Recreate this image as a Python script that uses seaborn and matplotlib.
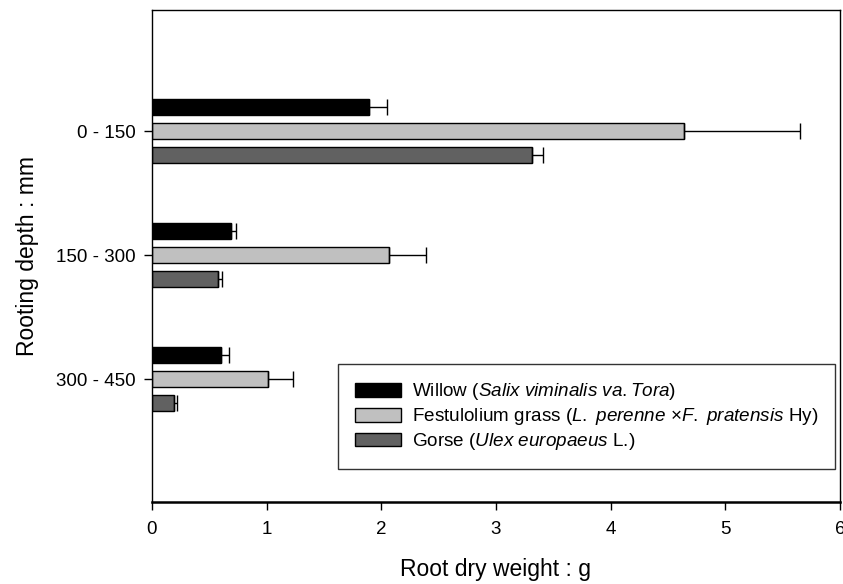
import numpy as np
import pandas as pd
import seaborn as sns
import matplotlib
matplotlib.use("Agg")
from matplotlib import pyplot as plt

# datos
profundidad = ["0 - 150", "150 - 300", "300 - 450"]
especies = [
    r"Willow ($\it{Salix}$ $\it{viminalis}$ $\it{va.Tora}$)",
    r"Festulolium grass ($\it{L.}$ $\it{perenne}$ ×$\it{F.}$ $\it{pratensis}$ Hy)",
    r"Gorse ($\it{Ulex}$ $\it{europaeus}$ L.)",
]
willow = [1.89, 0.69, 0.60]
festulolium = [4.64, 2.07, 1.01]
gorse = [3.31, 0.58, 0.19]
willow_err = [0.16, 0.04, 0.07]
festulolium_err = [1.01, 0.32, 0.22]
gorse_err = [0.10, 0.03, 0.03]
colores = ["#000000", "#c0c0c0", "#616161"]

sns.set_style("white")
plt.rcParams["font.family"] = ["Liberation Sans", "DejaVu Sans"]
plt.rcParams["mathtext.fontset"] = "custom"
plt.rcParams["mathtext.rm"] = "Liberation Sans"
plt.rcParams["mathtext.it"] = "Liberation Sans:italic"
plt.rcParams["text.color"] = "black"
plt.rcParams["axes.labelcolor"] = "black"
plt.rcParams["xtick.color"] = "black"
plt.rcParams["ytick.color"] = "black"

df = pd.DataFrame({
    "depth": profundidad * 3,
    "species": [especies[0]] * 3 + [especies[1]] * 3 + [especies[2]] * 3,
    "weight": willow + festulolium + gorse,
})
errores = [willow_err, festulolium_err, gorse_err]

fig = plt.figure(figsize=(8.43, 5.84), dpi=100)
ax = fig.add_axes([0.1803, 0.1404, 0.8161, 0.8425])
sns.barplot(data=df, x="weight", y="depth", hue="species", orient="h",
            palette=colores, width=0.58, gap=0.33, errorbar=None,
            edgecolor="black", linewidth=1.0, ax=ax)

# barras de error solo hacia la derecha
for cont, err in zip(ax.containers, errores):
    ys = [p.get_y() + p.get_height() / 2 for p in cont.patches]
    xs = [p.get_width() for p in cont.patches]
    ax.errorbar(xs, ys, xerr=[np.zeros(len(err)), err], fmt="none",
                ecolor="black", elinewidth=1.0, capsize=5.5, capthick=1.0)

ax.set_xlim(0, 6)
ax.set_ylim(2.99, -0.976)
ax.set_xticks(range(7))
for s in ax.spines.values():
    s.set_color("black")
    s.set_linewidth(1.0)
ax.spines["bottom"].set_linewidth(1.8)
ax.tick_params(axis="both", direction="out", length=6, width=1, color="black",
               labelcolor="black", labelsize=13.5, bottom=True, left=True)
ax.tick_params(axis="x", pad=8)
ax.tick_params(axis="y", pad=6)
ax.set_xlabel("Root dry weight : g", fontsize=16.5, labelpad=14)
ax.set_ylabel("Rooting depth : mm", fontsize=16.5, labelpad=12)

leg = ax.legend(loc="lower right", bbox_to_anchor=(0.993, 0.067), fontsize=13.6,
                frameon=True, fancybox=False, edgecolor="black",
                handlelength=2.4, handleheight=0.74, handletextpad=0.58,
                borderpad=0.9, labelspacing=0.2, borderaxespad=0)
leg.get_frame().set_linewidth(1.0)

fig.savefig("out.png", dpi=100)
